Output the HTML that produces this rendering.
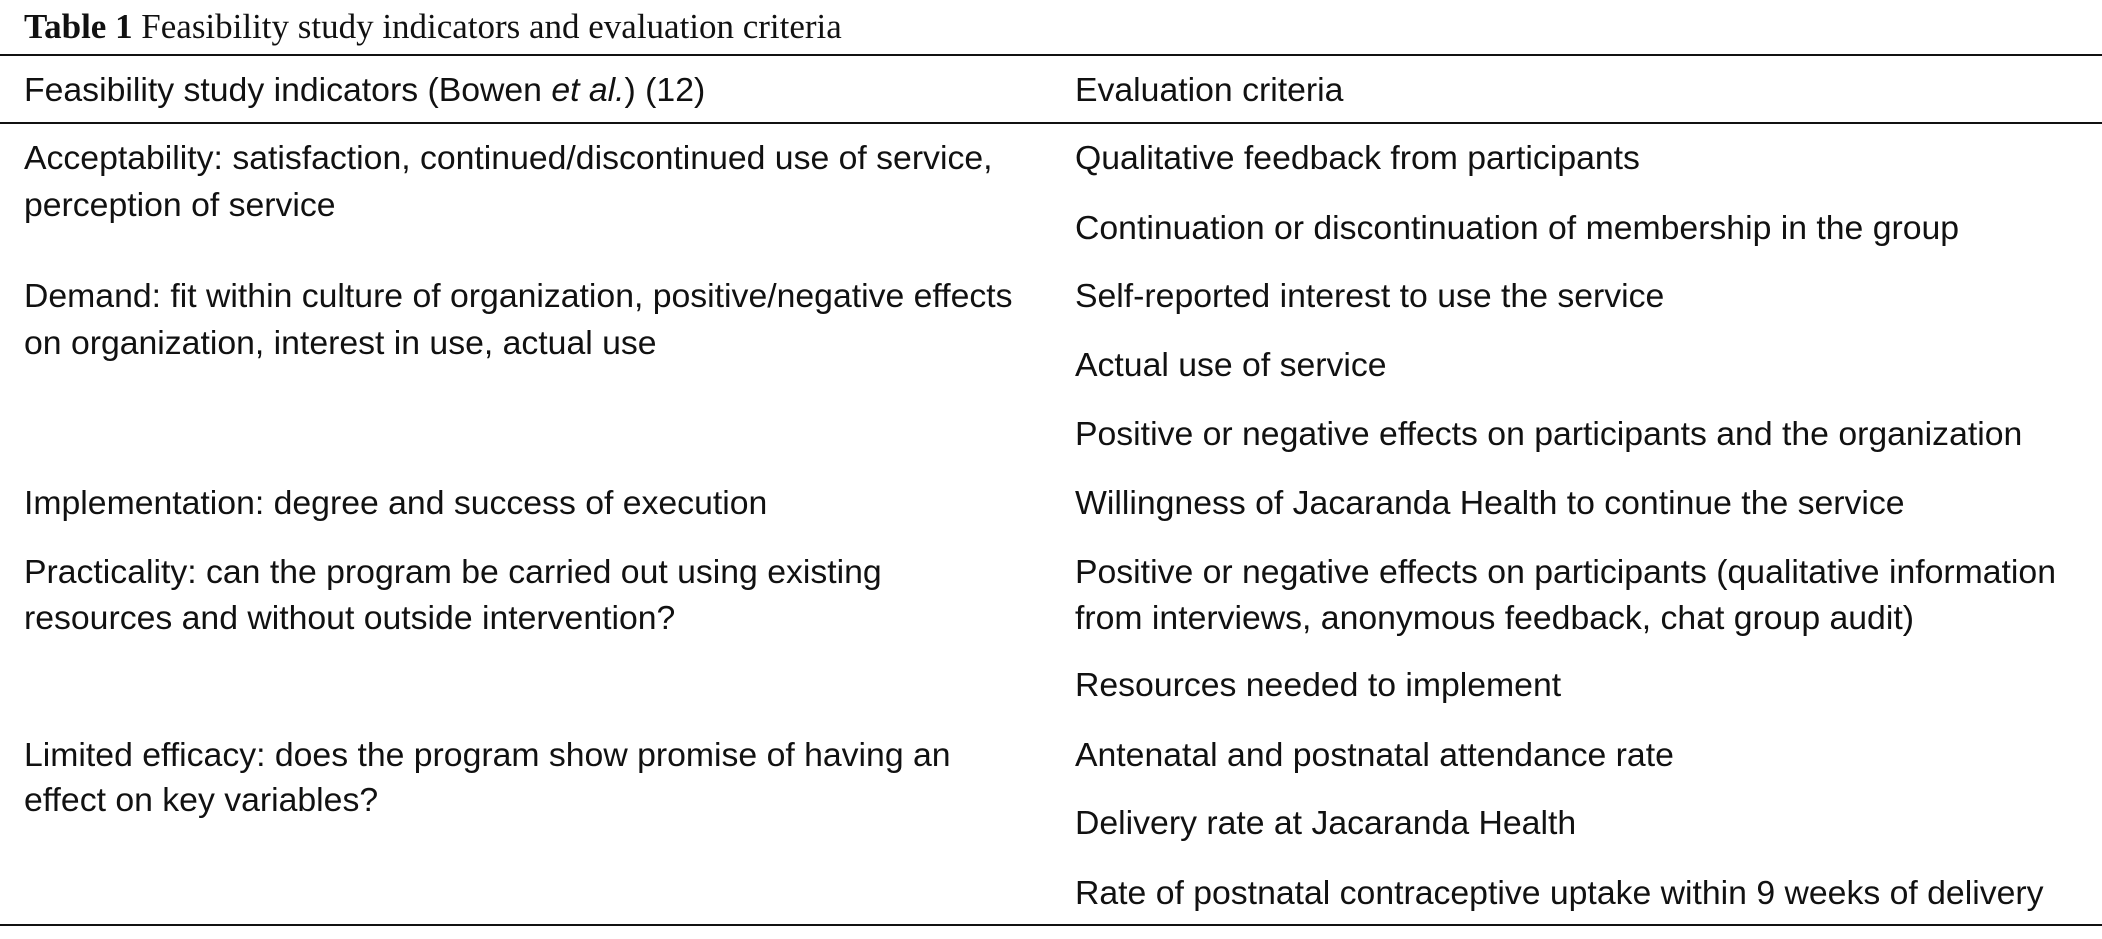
<!DOCTYPE html>
<html><head><meta charset="utf-8"><style>
html,body{margin:0;padding:0;background:#fff;}
#root{position:relative;width:2102px;height:939px;overflow:hidden;font-family:"Liberation Sans",Arial,sans-serif;color:#111;}
.t{position:absolute;white-space:nowrap;line-height:40px;height:40px;font-size:27px;}
.rule{position:absolute;left:0;width:2102px;background:#111;}
#title{font-family:"Liberation Serif",serif;font-size:28px;}
</style></head><body>
<div id="root">
<div class="t" id="title" style="left:24px;top:7px"><b>Table 1</b> Feasibility study indicators and evaluation criteria</div>
<div class="rule" style="top:54px;height:2px"></div>
<div class="t" style="left:24px;top:70px">Feasibility study indicators (Bowen <i>et al.</i>) (12)</div>
<div class="t" style="left:1075px;top:70px">Evaluation criteria</div>
<div class="rule" style="top:122px;height:2px"></div>

<div class="t" style="left:24px;top:138px">Acceptability: satisfaction, continued/discontinued use of service,</div>
<div class="t" style="left:24px;top:185px">perception of service</div>
<div class="t" style="left:24px;top:276px">Demand: fit within culture of organization, positive/negative effects</div>
<div class="t" style="left:24px;top:323px">on organization, interest in use, actual use</div>
<div class="t" style="left:24px;top:483px">Implementation: degree and success of execution</div>
<div class="t" style="left:24px;top:552px">Practicality: can the program be carried out using existing</div>
<div class="t" style="left:24px;top:598px">resources and without outside intervention?</div>
<div class="t" style="left:24px;top:735px">Limited efficacy: does the program show promise of having an</div>
<div class="t" style="left:24px;top:780px">effect on key variables?</div>

<div class="t" style="left:1075px;top:138px">Qualitative feedback from participants</div>
<div class="t" style="left:1075px;top:208px">Continuation or discontinuation of membership in the group</div>
<div class="t" style="left:1075px;top:276px">Self-reported interest to use the service</div>
<div class="t" style="left:1075px;top:345px">Actual use of service</div>
<div class="t" style="left:1075px;top:414px">Positive or negative effects on participants and the organization</div>
<div class="t" style="left:1075px;top:483px">Willingness of Jacaranda Health to continue the service</div>
<div class="t" style="left:1075px;top:552px">Positive or negative effects on participants (qualitative information</div>
<div class="t" style="left:1075px;top:598px">from interviews, anonymous feedback, chat group audit)</div>
<div class="t" style="left:1075px;top:665px">Resources needed to implement</div>
<div class="t" style="left:1075px;top:735px">Antenatal and postnatal attendance rate</div>
<div class="t" style="left:1075px;top:803px">Delivery rate at Jacaranda Health</div>
<div class="t" id="ref" style="left:1075px;top:873px">Rate of postnatal contraceptive uptake within 9 weeks of delivery</div>
<div class="rule" style="top:924px;height:2px"></div>
</div>
<script>
var ref=document.getElementById('ref');
var w=ref.getBoundingClientRect().width;
var fs=27*969/w;
document.querySelectorAll('.t').forEach(function(e){if(e.id!=='title')e.style.fontSize=fs+'px';});
var t=document.getElementById('title');
var tw=t.getBoundingClientRect().width;
t.style.fontSize=(28*818/tw)+'px';
</script>
</body></html>
